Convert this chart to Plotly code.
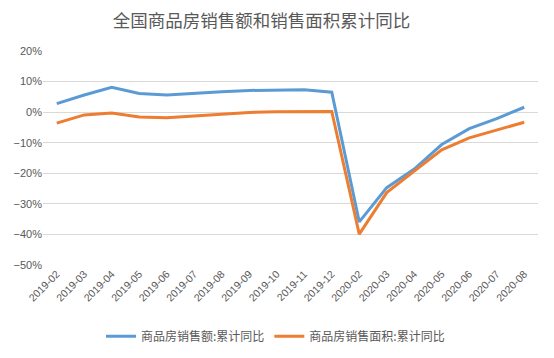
import plotly.graph_objects as go

months = ["2019-02", "2019-03", "2019-04", "2019-05", "2019-06", "2019-07", "2019-08",
          "2019-09", "2019-10", "2019-11", "2019-12", "2020-02", "2020-03", "2020-04",
          "2020-05", "2020-06", "2020-07", "2020-08"]
sales_value = [2.8, 5.6, 8.1, 6.1, 5.6, 6.2, 6.7, 7.1, 7.3, 7.3, 6.5,
               -35.9, -24.7, -18.6, -10.6, -5.4, -2.1, 1.6]
sales_area = [-3.6, -0.9, -0.3, -1.6, -1.8, -1.3, -0.6, -0.1, 0.1, 0.2, 0.2,
              -39.9, -26.3, -19.3, -12.3, -8.4, -5.8, -3.3]
name_value = "商品房销售额:累计同比"
name_area = "商品房销售面积:累计同比"
title = "全国商品房销售额和销售面积累计同比"

font_cjk = "Noto Sans CJK SC"
grey = "#595959"

# page body has an 8px default margin, so the figure is sized to fit the window
W, H = 546, 350

fig = go.Figure()
fig.add_trace(go.Scatter(x=months, y=sales_value, mode="lines", name=name_value,
                         line=dict(color="#5B9BD5", width=3)))
fig.add_trace(go.Scatter(x=months, y=sales_area, mode="lines", name=name_area,
                         line=dict(color="#ED7D31", width=3)))

fig.update_layout(
    width=W, height=H,
    margin=dict(l=35, r=16, t=43, b=93, autoexpand=False),
    paper_bgcolor="white", plot_bgcolor="white",
    font=dict(family=font_cjk, color=grey, size=11),
    title=dict(text=title, x=253.5 / W, xref="container", xanchor="center",
               y=1 - 13 / H, yref="container", yanchor="middle",
               font=dict(family=font_cjk, size=17.5, color=grey)),
    showlegend=True,
    legend=dict(orientation="h", x=267.5 / W, xref="container", xanchor="center",
                y=-0.265, yanchor="top",
                font=dict(family=font_cjk, size=12, color=grey),
                itemwidth=30, tracegroupgap=0),
)
fig.update_xaxes(type="category", range=[-0.5, len(months) - 0.5], tickangle=-45,
                 showgrid=False, showline=False, automargin=False,
                 ticks="", tickfont=dict(family="Liberation Sans", size=10.5, color=grey))
fig.update_yaxes(range=[-50, 20], dtick=10, ticksuffix="%", showgrid=True,
                 gridcolor="#D9D9D9", gridwidth=1, zeroline=False, showline=False,
                 automargin=False,
                 ticks="", tickfont=dict(family="Liberation Sans", size=11, color=grey))

fig.write_html("out.html")
